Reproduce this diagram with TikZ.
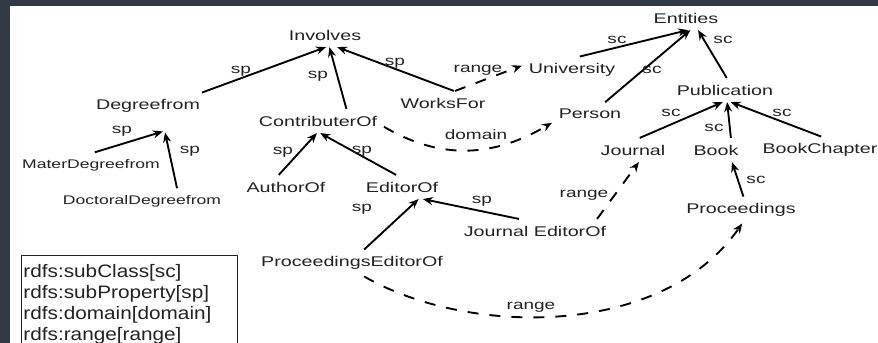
\documentclass[tikz,border=0pt]{standalone}
\usepackage{fontspec}
\setmainfont{Liberation Sans}[FakeStretch=1.4]
\newfontfamily\legendfont{Liberation Sans}[FakeStretch=1.15]
\usetikzlibrary{arrows.meta,calc}
\definecolor{FrameSlate}{HTML}{343A45}
\definecolor{InkGrey}{HTML}{222222}

\begin{document}
\begin{tikzpicture}[x=0.3mm,y=-0.3mm,
  concept/.style={inner sep=2mm,text=InkGrey,font=\fontsize{12}{14}\selectfont},
  minor/.style={concept,font=\fontsize{10.7}{13}\selectfont},
  tag/.style={inner sep=0pt,text=InkGrey,font=\fontsize{11.6}{13}\selectfont},
  link/.style={-{Stealth[length=3mm,width=2.4mm]},line width=1.6pt,draw=black},
  rel/.style={link,dash pattern=on 3.3mm off 3.3mm},
  keybox/.style={draw=InkGrey,line width=0.8pt,anchor=north west,align=left,text width=63.6mm,inner xsep=0.6mm,inner ysep=2.7mm,text=InkGrey,font=\legendfont\fontsize{15.4}{17.9}\selectfont}
]
\useasboundingbox (0,0) rectangle (878,343);
\clip (0,0) rectangle (878,343);
\fill[FrameSlate] (0,0) rectangle (878,343);
\fill[white] (10,6) rectangle (878,343);

% classes
\node[concept] (ent) at (686,18) {Entities};
\node[concept] (uni) at (572,70) {University};
\node[concept] (per) at (590,114) {Person};
\node[concept] (pub) at (725,90) {Publication};
\node[concept] (jou) at (633,150) {Journal};
\node[concept] (book) at (716,150) {Book};
\node[concept] (bch) at (820,150) {BookChapter};
\node[concept] (proc) at (741,210) {Proceedings};

% properties
\node[concept] (inv) at (325,35) {Involves};
\node[concept] (dgf) at (148,106) {Degreefrom};
\node[minor] (mat) at (91,165) {MaterDegreefrom};
\node[minor] (doc) at (142,201) {DoctoralDegreefrom};
\node[concept] (cont) at (318,121) {ContributerOf};
\node[concept] (wf) at (443,103) {WorksFor};
\node[concept] (aut) at (286,187) {AuthorOf};
\node[concept] (edi) at (402,187) {EditorOf};
\node[concept] (jed) at (535,231) {Journal EditorOf};
\node[concept] (ped) at (352,263) {ProceedingsEditorOf};

% edges
\draw[link] (dgf.14) -- (inv.-85);
\draw[link] (cont.23) -- (inv.-70);
\draw[link] (wf.48) -- (inv.-45);
\draw[rel] (wf.45) -- (uni.175);
\draw[rel] (cont.-5) .. controls +(58,34) and +(-58,34) .. (per.193);
\draw[link] (uni.60) -- (ent.-80);
\draw[link] (per.38) -- (ent.-70);
\draw[link] (pub.82) -- (ent.-45);
\draw[link] (jou.61) -- (pub.-100);
\draw[link] (book.39) -- (pub.-80);
\draw[link] (bch.85) -- (pub.-65);
\draw[link] (proc.80) -- (book.-37);
\draw[rel] (jed.11) -- (jou.-64);
\draw[rel] (ped.-48) .. controls +(104,60) and +(-80,115) .. (proc.-85);
\draw[link] (ped.48) -- (edi.-36);
\draw[link] (jed.143) -- (edi.-30);
\draw[link] (aut.121) -- (cont.-95);
\draw[link] (edi.116) -- (cont.-80);
\draw[link] (mat.73) -- ($(dgf.south)+(15,12)$);
\draw[link] (doc.20) -- ($(dgf.south)+(17,13)$);

% edge labels
\node[tag] (spDgf) at (241,71) {sp};
\node[tag] (spCont) at (318,76) {sp};
\node[tag] (spWf) at (395,63) {sp};
\node[tag] (rgWf) at (478,70) {range};
\node[tag] (dmCont) at (476,135) {domain};
\node[tag] (scUni) at (617,40) {sc};
\node[tag] (scPer) at (652,70) {sc};
\node[tag] (scPub) at (723,40) {sc};
\node[tag] (scJou) at (671,113) {sc};
\node[tag] (scBook) at (714,128) {sc};
\node[tag] (scBch) at (782,113) {sc};
\node[tag] (scProc) at (756,180) {sc};
\node[tag] (rgJed) at (584,195) {range};
\node[tag] (rgPed) at (531,307) {range};
\node[tag] (spPed) at (362,209) {sp};
\node[tag] (spJed) at (482,201) {sp};
\node[tag] (spAut) at (283,152) {sp};
\node[tag] (spEdi) at (362,151) {sp};
\node[tag] (spMat) at (122,131) {sp};
\node[tag] (spDoc) at (190,151) {sp};

% legend
\node[keybox] (key) at (21,255) {rdfs:subClass[sc]\\rdfs:subProperty[sp]\\rdfs:domain[domain]\\rdfs:range[range]};
\end{tikzpicture}
\end{document}
